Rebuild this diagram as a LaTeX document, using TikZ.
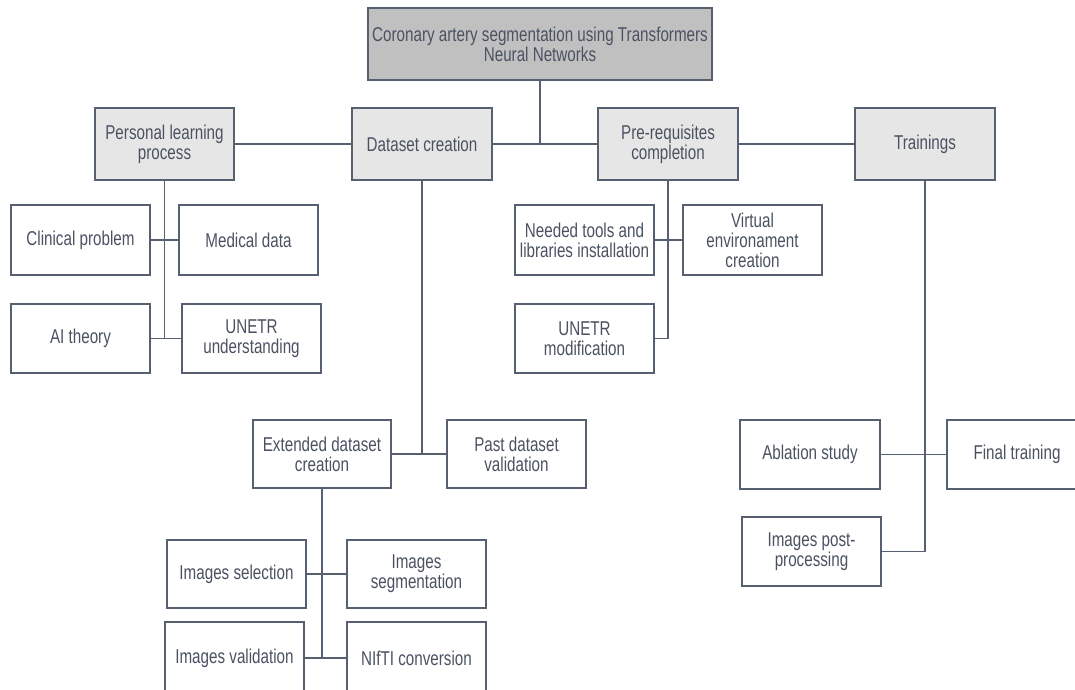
\documentclass[tikz,border=0pt]{standalone}
\usepackage{fontspec}
\setmainfont{Liberation Sans}[FakeStretch=0.76]
\definecolor{linec}{HTML}{566070}
\definecolor{textc}{HTML}{4A5262}
\definecolor{rootfill}{HTML}{C0C0C0}
\definecolor{lvlfill}{HTML}{E6E6E6}
\tikzset{
  box/.style={draw=linec, line width=1.5pt, fill=white, text=textc, align=center, inner sep=0pt,
    font=\fontsize{20}{20}\selectfont},
  rootbox/.style={box, fill=rootfill},
  lvlbox/.style={box, fill=lvlfill},
  conn/.style={draw=linec, line width=1.5pt},
}
\newcommand\mkbox[7]{%
  \pgfmathsetmacro\bw{#4-#2}\pgfmathsetmacro\bh{#5-#3}%
  \node[#7, minimum width=\bw pt, minimum height=\bh pt] (#1) at ({(#2+#4)/2},{(#3+#5)/2}) {#6};}
\begin{document}
\begin{tikzpicture}[x=1pt,y=-1pt]
\useasboundingbox (0,0) rectangle (1075,689);
\clip (0,0) rectangle (1075,689);
\fill[white] (0,0) rectangle (1075,689);
% root and level 1
\mkbox{root}{368}{8}{712}{80}{Coronary artery segmentation using Transformers\\Neural Networks}{rootbox}
\mkbox{pers}{95}{108}{234}{180}{Personal learning\\process}{lvlbox}
\mkbox{data}{352}{108}{492}{180}{Dataset creation}{lvlbox}
\mkbox{prereq}{598}{108}{738}{180}{Pre-requisites\\completion}{lvlbox}
\mkbox{train}{855}{108}{995}{180}{Trainings}{lvlbox}
% personal learning children
\mkbox{clin}{11}{205}{150}{275}{Clinical problem}{box}
\mkbox{med}{179}{205}{318}{275}{Medical data}{box}
\mkbox{ai}{11}{304}{150}{373}{AI theory}{box}
\mkbox{unetru}{182}{304}{321}{373}{UNETR\\understanding}{box}
% pre-requisites children
\mkbox{tools}{515}{205}{654}{275}{Needed tools and\\libraries installation}{box}
\mkbox{venv}{683}{205}{822}{275}{Virtual\\environament\\creation}{box}
\mkbox{unetrm}{515}{304}{654}{373}{UNETR\\modification}{box}
% dataset children
\mkbox{ext}{253}{420}{391}{488}{Extended dataset\\creation}{box}
\mkbox{past}{447}{420}{586}{488}{Past dataset\\validation}{box}
\mkbox{sel}{167}{540}{306}{608}{Images selection}{box}
\mkbox{seg}{347}{540}{486}{608}{Images\\segmentation}{box}
\mkbox{val}{165}{622}{304}{694}{Images validation}{box}
\mkbox{nifti}{347}{622}{486}{694}{NIfTI conversion}{box}
% trainings children
\mkbox{abl}{740}{420}{880}{489}{Ablation study}{box}
\mkbox{final}{947}{420}{1087}{489}{Final training}{box}
\mkbox{post}{742}{517}{881}{586}{Images post-\\processing}{box}
% connectors
\draw[conn] (root.south) -- (root.south |- data.east);
\draw[conn] (data.east) -- (prereq.west);
\draw[conn] (pers.east) -- (data.west);
\draw[conn] (prereq.east) -- (train.west);
\draw[conn] (pers.south) -- (pers.south |- ai.east);
\draw[conn] (clin.east) -- (med.west);
\draw[conn] (ai.east) -- (unetru.west);
\draw[conn] (prereq.south) -- (prereq.south |- unetrm.east) -- (unetrm.east);
\draw[conn] (tools.east) -- (venv.west);
\draw[conn] (data.south) -- (data.south |- past.west);
\draw[conn] (ext.east) -- (past.west);
\draw[conn] (ext.south) -- (ext.south |- val.east);
\draw[conn] (sel.east) -- (seg.west);
\draw[conn] (val.east) -- (nifti.west);
\draw[conn] (train.south) -- (train.south |- post.east) -- (post.east);
\draw[conn] (abl.east) -- (final.west);
\end{tikzpicture}
\end{document}
